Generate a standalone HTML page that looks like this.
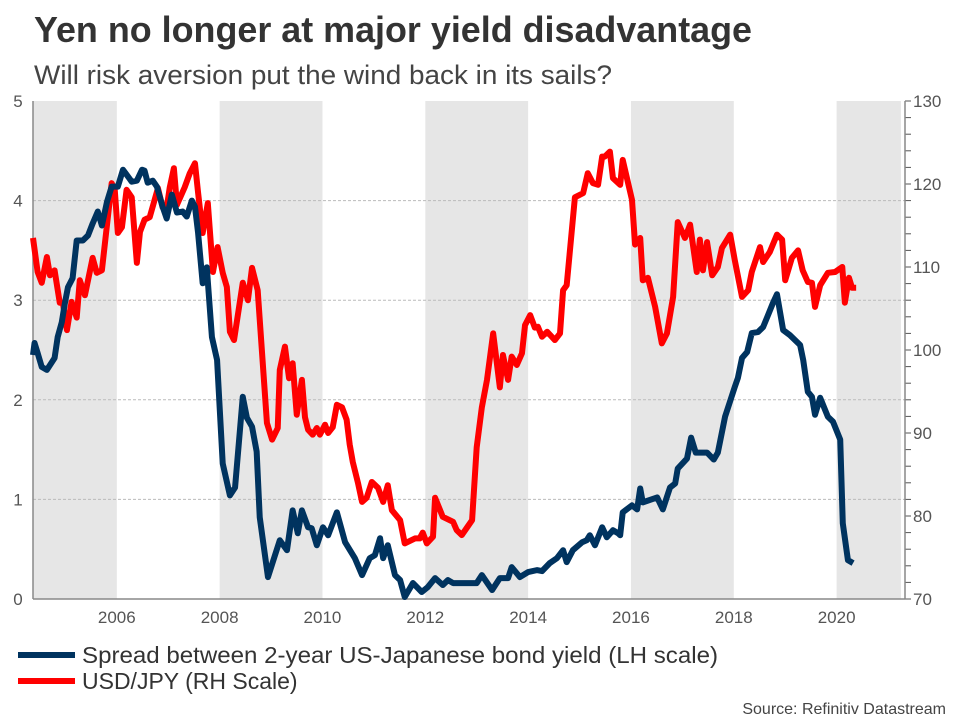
<!DOCTYPE html>
<html><head><meta charset="utf-8"><style>
body{margin:0;background:#fff;font-family:"Liberation Sans",Arial,sans-serif;}
svg text{font-family:"Liberation Sans",Arial,sans-serif;}
</style></head><body>
<svg id="chart" width="960" height="720" viewBox="0 0 960 720" xmlns="http://www.w3.org/2000/svg">
<text x="34" y="42" font-size="36" font-weight="bold" fill="#333" textLength="718" lengthAdjust="spacingAndGlyphs">Yen no longer at major yield disadvantage</text>
<text x="34" y="84" font-size="27" fill="#444" textLength="578" lengthAdjust="spacingAndGlyphs">Will risk aversion put the wind back in its sails?</text>
<g id="bands"></g>
<g id="grid"></g>
<g id="axes"></g>
<g id="series"></g>
<g>
<line x1="18" y1="655" x2="75" y2="655" stroke="#00335f" stroke-width="6"/>
<text x="82" y="663" font-size="23" fill="#333" textLength="636" lengthAdjust="spacingAndGlyphs">Spread between 2-year US-Japanese bond yield (LH scale)</text>
<line x1="18" y1="681" x2="75" y2="681" stroke="#ff0000" stroke-width="6"/>
<text x="82" y="689" font-size="23" fill="#333">USD/JPY (RH Scale)</text>
</g>
<text x="946" y="714" font-size="16" fill="#444" text-anchor="end">Source: Refinitiv Datastream</text>
</svg>
<script>
const spreadDates=[2004.37,2004.40,2004.46,2004.54,2004.64,2004.79,2004.85,2004.93,2004.99,2005.05,2005.14,2005.22,2005.34,2005.44,2005.53,2005.63,2005.71,2005.81,2005.90,2006.02,2006.12,2006.29,2006.39,2006.49,2006.54,2006.60,2006.70,2006.78,2006.89,2006.97,2007.07,2007.17,2007.28,2007.36,2007.46,2007.52,2007.58,2007.67,2007.75,2007.85,2007.95,2008.06,2008.20,2008.30,2008.45,2008.53,2008.63,2008.72,2008.78,2008.94,2009.17,2009.31,2009.42,2009.52,2009.60,2009.72,2009.79,2009.89,2010.01,2010.11,2010.28,2010.44,2010.63,2010.77,2010.92,2011.02,2011.12,2011.18,2011.27,2011.41,2011.51,2011.60,2011.76,2011.93,2012.05,2012.19,2012.34,2012.44,2012.54,2012.73,2013.00,2013.10,2013.30,2013.45,2013.61,2013.68,2013.84,2014.00,2014.17,2014.27,2014.42,2014.56,2014.68,2014.75,2014.87,2015.05,2015.14,2015.20,2015.30,2015.44,2015.53,2015.65,2015.75,2015.79,2015.84,2016.02,2016.12,2016.18,2016.23,2016.51,2016.62,2016.76,2016.86,2016.91,2017.09,2017.17,2017.26,2017.48,2017.61,2017.69,2017.83,2018.02,2018.08,2018.16,2018.26,2018.35,2018.47,2018.57,2018.65,2018.76,2018.84,2018.96,2019.09,2019.29,2019.35,2019.44,2019.52,2019.58,2019.68,2019.83,2019.93,2020.07,2020.12,2020.22,2020.32];
const spreadValues=[2.45,2.57,2.47,2.33,2.30,2.42,2.63,2.78,2.97,3.13,3.22,3.60,3.60,3.65,3.77,3.89,3.75,3.99,4.14,4.14,4.31,4.19,4.20,4.31,4.30,4.18,4.20,4.14,3.94,3.82,4.06,3.88,3.89,3.84,4.00,3.94,3.68,3.17,3.33,2.63,2.40,1.36,1.04,1.12,2.03,1.82,1.73,1.48,0.82,0.22,0.59,0.49,0.89,0.66,0.89,0.72,0.71,0.54,0.72,0.64,0.87,0.57,0.41,0.24,0.41,0.44,0.61,0.41,0.54,0.24,0.19,0.02,0.16,0.07,0.12,0.21,0.14,0.19,0.16,0.16,0.16,0.24,0.09,0.21,0.21,0.32,0.22,0.27,0.29,0.28,0.36,0.41,0.49,0.37,0.49,0.57,0.59,0.64,0.54,0.72,0.62,0.69,0.66,0.64,0.87,0.94,0.90,1.11,0.97,1.02,0.90,1.12,1.16,1.31,1.41,1.62,1.47,1.47,1.40,1.47,1.83,2.13,2.22,2.42,2.48,2.67,2.68,2.73,2.83,2.97,3.06,2.70,2.65,2.55,2.40,2.08,2.03,1.85,2.02,1.83,1.78,1.60,0.76,0.39,0.36];
const fxDates=[2004.37,2004.46,2004.54,2004.64,2004.70,2004.79,2004.89,2004.95,2005.03,2005.12,2005.22,2005.28,2005.38,2005.53,2005.61,2005.71,2005.90,2005.96,2006.02,2006.10,2006.19,2006.29,2006.39,2006.45,2006.54,2006.64,2006.80,2006.89,2006.97,2007.03,2007.11,2007.17,2007.32,2007.42,2007.52,2007.58,2007.67,2007.77,2007.87,2007.96,2008.06,2008.14,2008.20,2008.28,2008.45,2008.55,2008.63,2008.74,2008.92,2009.02,2009.13,2009.17,2009.27,2009.35,2009.42,2009.50,2009.60,2009.66,2009.72,2009.81,2009.89,2009.95,2010.05,2010.11,2010.20,2010.28,2010.38,2010.47,2010.53,2010.59,2010.69,2010.77,2010.86,2010.96,2011.08,2011.18,2011.27,2011.35,2011.51,2011.60,2011.80,2011.89,2011.95,2012.03,2012.15,2012.19,2012.34,2012.54,2012.61,2012.71,2012.81,2012.91,2013.00,2013.10,2013.20,2013.32,2013.45,2013.51,2013.61,2013.68,2013.78,2013.88,2013.94,2014.04,2014.13,2014.19,2014.27,2014.37,2014.52,2014.62,2014.68,2014.75,2014.91,2015.07,2015.16,2015.26,2015.36,2015.44,2015.49,2015.59,2015.65,2015.79,2015.84,2016.02,2016.08,2016.18,2016.23,2016.33,2016.47,2016.60,2016.70,2016.82,2016.91,2017.05,2017.15,2017.28,2017.34,2017.40,2017.48,2017.58,2017.69,2017.77,2017.93,2018.02,2018.16,2018.28,2018.35,2018.51,2018.57,2018.70,2018.84,2018.94,2019.00,2019.13,2019.25,2019.34,2019.44,2019.52,2019.58,2019.68,2019.83,2019.97,2020.11,2020.16,2020.24,2020.30,2020.38];
const fxValues=[113.5,109.4,108.1,111.2,109.0,109.6,105.7,105.7,102.4,105.8,103.9,108.4,106.6,111.1,109.3,109.6,120.1,119.3,114.1,114.8,119.3,118.4,110.5,114.2,115.7,116.0,119.5,117.2,117.1,119.6,121.9,117.5,119.6,121.3,122.5,119.0,114.1,117.7,109.4,112.4,109.3,107.6,102.2,101.2,108.1,106.0,109.9,107.2,91.2,89.2,90.6,97.6,100.4,96.6,98.4,92.2,96.4,91.9,90.4,89.8,90.6,89.8,91.0,90.0,90.7,93.4,93.1,91.6,88.6,86.5,84.0,81.7,82.2,84.1,83.4,81.7,83.7,80.7,79.5,76.7,77.3,77.3,78.0,76.7,77.5,82.2,79.9,79.3,78.3,77.7,78.6,79.5,88.3,93.1,96.4,102.0,95.5,99.4,96.4,99.2,98.2,99.6,103.0,104.2,102.7,102.8,101.6,102.2,101.2,102.0,107.2,107.8,118.4,118.9,121.3,120.1,119.9,123.3,123.3,123.9,120.7,119.9,122.9,118.1,112.7,113.5,108.4,108.7,105.2,100.8,102.0,106.4,115.4,113.5,115.1,109.4,113.3,109.6,113.0,109.0,110.0,112.3,113.9,110.8,106.4,107.2,109.4,112.4,110.6,111.8,113.9,113.3,108.4,111.1,112.0,109.6,108.2,108.1,105.2,107.8,109.3,109.4,110.0,105.7,108.7,107.5,107.5];
const leftTicks=[0,1,2,3,4,5];
const rightTicks=[70,80,90,100,110,120,130];
const xTicks=[2006,2008,2010,2012,2014,2016,2018,2020];
const bandStarts=[2004.37,2008,2012,2016,2020];
const bandEnds=[2006,2010,2014,2018,2021.25];

const X0=33,X1=905,T0=2004.37,T1=2021.33;
const Y0=599,Y1=101;
const xs=t=>X0+(t-T0)/(T1-T0)*(X1-X0);
const yl=v=>Y0-(v-0)/(5-0)*(Y0-Y1);
const yr=v=>Y0-(v-70)/(130-70)*(Y0-Y1);
const NS='http://www.w3.org/2000/svg';
function mk(tag,attrs,parent){const e=document.createElementNS(NS,tag);for(const k in attrs)e.setAttribute(k,attrs[k]);parent.appendChild(e);return e;}
const bands=document.getElementById('bands'),grid=document.getElementById('grid'),axes=document.getElementById('axes'),series=document.getElementById('series');
bandStarts.forEach((s,i)=>{const r=mk('rect',{x:xs(s),y:Y1,width:Math.min(xs(bandEnds[i]),X1)-xs(s),height:Y0-Y1,fill:'#e6e6e6'},bands);

});
leftTicks.forEach(v=>{if(v>0&&v<5){const l=mk('line',{x1:X0,x2:X1,y1:yl(v),y2:yl(v),stroke:'#bbb','stroke-dasharray':'3,2','stroke-width':1},grid);

}
const t=mk('text',{x:18,y:yl(v)+6,'font-size':17,fill:'#555','text-anchor':'middle'},axes);t.textContent=v;

});
for(let v=70;v<=130;v+=2){const l=mk('line',{x1:X1,x2:X1+6,y1:yr(v),y2:yr(v),stroke:'#555','stroke-width':1},axes);

}
rightTicks.forEach(v=>{const t=mk('text',{x:913,y:yr(v)+6,'font-size':17,fill:'#555'},axes);t.textContent=v;

});
xTicks.forEach(y=>{const t=mk('text',{x:xs(y),y:623,'font-size':17,fill:'#555','text-anchor':'middle'},axes);t.textContent=y;

});
let a=mk('line',{x1:X0,x2:X0,y1:Y1,y2:Y0,stroke:'#888','stroke-width':1.5},axes);


a=mk('line',{x1:X1,x2:X1,y1:Y1,y2:Y0,stroke:'#888','stroke-width':1.5},axes);


a=mk('line',{x1:X0,x2:X1,y1:Y0,y2:Y0,stroke:'#888','stroke-width':1.5},axes);


const p1=mk('polyline',{points:fxDates.map((t,i)=>xs(t)+','+yr(fxValues[i])).join(' '),fill:'none',stroke:'#ff0000','stroke-width':6,'stroke-linejoin':'round'},series);


const p2=mk('polyline',{points:spreadDates.map((t,i)=>xs(t)+','+yl(spreadValues[i])).join(' '),fill:'none',stroke:'#00335f','stroke-width':6,'stroke-linejoin':'round'},series);


</script>
</body></html>
